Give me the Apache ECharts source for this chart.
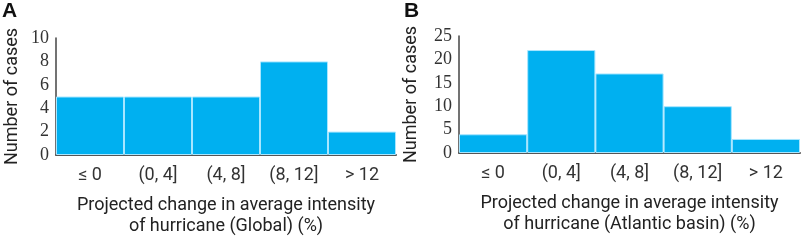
<!DOCTYPE html>
<html>
<head>
<meta charset="utf-8">
<script src="https://cdn.jsdelivr.net/npm/echarts@6/dist/echarts.min.js"></script>
<style>
  html, body { margin: 0; padding: 0; background: #fff; }
  #chart { width: 803px; height: 240px; }
</style>
</head>
<body>
<div id="chart"></div>
<script>
// bins of projected change (%)
const categories = ["≤ 0", "(0, 4]", "(4, 8]", "(8, 12]", "> 12"];
const globalCounts = [5, 5, 5, 8, 2];
const atlanticCounts = [4, 22, 17, 10, 3];

const barColor = "#00b0f0";
const serif = "'Liberation Serif', 'DejaVu Serif', serif";
const sans = "Roboto, 'Noto Sans', sans-serif";

function xAxisFor(gridIndex, name) {
  return {
    type: "category",
    gridIndex: gridIndex,
    data: categories,
    name: name,
    nameLocation: "middle",
    nameGap: 40,
    nameTextStyle: { fontFamily: sans, fontSize: 18, color: "#222", lineHeight: 21 },
    axisLine: { lineStyle: { color: "#555", width: 2 } },
    axisTick: { show: false },
    axisLabel: { fontFamily: sans, fontSize: 18, color: "#333", margin: 11 }
  };
}

function yAxisFor(gridIndex, max, interval, gap) {
  return {
    type: "value",
    gridIndex: gridIndex,
    min: 0,
    max: max,
    interval: interval,
    name: "Number of cases",
    nameLocation: "middle",
    nameGap: gap,
    nameTextStyle: { fontFamily: sans, fontSize: 18, color: "#222" },
    axisLine: { show: true, lineStyle: { color: "#444", width: 1.5 } },
    axisTick: { show: false },
    splitLine: { show: false },
    axisLabel: { fontFamily: serif, fontSize: 18, color: "#333", margin: 7 }
  };
}

function barSeries(idx, values) {
  return {
    type: "bar",
    xAxisIndex: idx,
    yAxisIndex: idx,
    data: values,
    barCategoryGap: 0,
    itemStyle: { color: barColor, borderColor: "#a8e6ff", borderWidth: 1 }
  };
}

const option = {
  animation: false,
  grid: [
    { left: 56, top: 38, width: 340, height: 117, containLabel: false, outerBoundsMode: "none" },
    { left: 459, top: 36, width: 341, height: 117, containLabel: false, outerBoundsMode: "none" }
  ],
  xAxis: [
    xAxisFor(0, "Projected change in average intensity\nof hurricane (Global) (%)"),
    xAxisFor(1, "Projected change in average intensity\nof hurricane (Atlantic basin) (%)")
  ],
  yAxis: [
    yAxisFor(0, 10, 2, 35),
    yAxisFor(1, 25, 5, 39)
  ],
  series: [barSeries(0, globalCounts), barSeries(1, atlanticCounts)],
  graphic: [
    { type: "text", left: 2, top: 1, style: { text: "A", font: "bold 21px 'Liberation Sans', Arial, sans-serif", fill: "#111" } },
    { type: "text", left: 404, top: 1, style: { text: "B", font: "bold 21px 'Liberation Sans', Arial, sans-serif", fill: "#111" } }
  ]
};

const chart = echarts.init(document.getElementById("chart"));
chart.setOption(option);
</script>
</body>
</html>
